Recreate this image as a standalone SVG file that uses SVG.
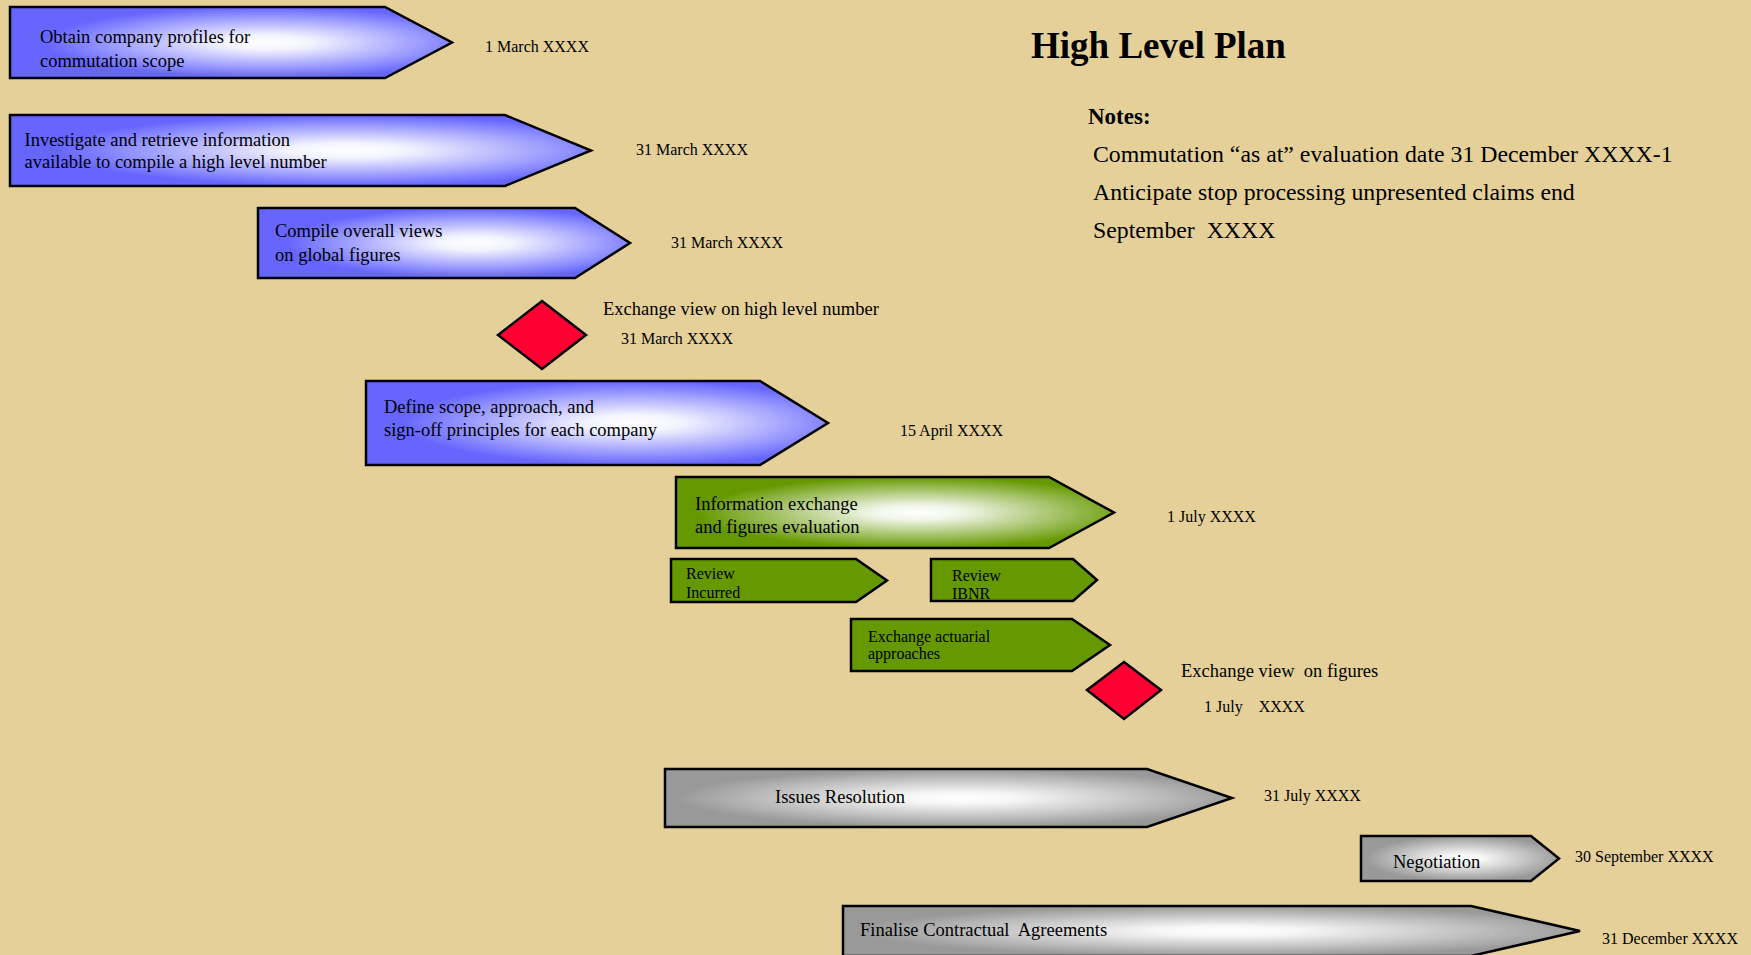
<svg xmlns="http://www.w3.org/2000/svg" width="1751" height="955" viewBox="0 0 1751 955">
<defs>
<radialGradient id="gBlue" cx="0.58" cy="0.5" r="0.5" fx="0.58" fy="0.5">
<stop offset="0" stop-color="#FFFFFF"/>
<stop offset="0.2" stop-color="#F4F4FF"/>
<stop offset="1" stop-color="#6666FF"/>
</radialGradient>
<radialGradient id="gGreen" cx="0.55" cy="0.5" r="0.5" fx="0.55" fy="0.5">
<stop offset="0" stop-color="#FFFFFF"/>
<stop offset="0.2" stop-color="#F2F6EA"/>
<stop offset="1" stop-color="#669900"/>
</radialGradient>
<radialGradient id="gGray" cx="0.52" cy="0.5" r="0.5" fx="0.52" fy="0.5">
<stop offset="0" stop-color="#FFFFFF"/>
<stop offset="0.2" stop-color="#F6F6F6"/>
<stop offset="1" stop-color="#999999"/>
</radialGradient>
<style>
.arrow{stroke:#000;stroke-width:2.5;stroke-linejoin:miter}
.blue{fill:url(#gBlue)}
.green{fill:url(#gGreen)}
.solidgreen{fill:#669900}
.gray{fill:url(#gGray)}
.dia{fill:#FF0033;stroke:#000;stroke-width:2.5}
text{font-family:"Liberation Serif","Times New Roman",serif;fill:#000}
.lbl{font-size:18.5px}
.sm{font-size:16px}
.date{font-size:16px}
.note{font-size:23.8px}
</style>
</defs>
<rect x="0" y="0" width="1751" height="955" fill="#E5D09A"/>

<g id="n1">
<polygon class="arrow blue" points="10,7 385,7 452,42.5 385,78 10,78"/>
<text class="lbl" x="40" y="43">Obtain company profiles for</text>
<text class="lbl" x="40" y="67">commutation scope</text>
</g>
<g id="d1"><text class="date" x="485" y="52">1 March XXXX</text></g>

<g id="n2">
<polygon class="arrow blue" points="10,115 505,115 591,150.5 505,186 10,186"/>
<text class="lbl" x="24.5" y="146">Investigate and retrieve information</text>
<text class="lbl" x="24.5" y="168">available to compile a high level number</text>
</g>
<g id="d2"><text class="date" x="636" y="155">31 March XXXX</text></g>

<g id="n3">
<polygon class="arrow blue" points="258,208 575,208 630,243 575,278 258,278"/>
<text class="lbl" x="275" y="237">Compile overall views</text>
<text class="lbl" x="275" y="261">on global figures</text>
</g>
<g id="d3"><text class="date" x="671" y="248">31 March XXXX</text></g>

<g id="m1">
<polygon class="dia" points="542,301 586,335 542,369 498,335"/>
<text class="lbl" x="603" y="315">Exchange view on high level number</text>
<text class="date" x="621" y="344">31 March XXXX</text>
</g>

<g id="n4">
<polygon class="arrow blue" points="366,381 760,381 828,423 760,465 366,465"/>
<text class="lbl" x="384" y="413">Define scope, approach, and</text>
<text class="lbl" x="384" y="436">sign-off principles for each company</text>
</g>
<g id="d4"><text class="date" x="900" y="436">15 April XXXX</text></g>

<g id="n5">
<polygon class="arrow green" points="676,477 1049,477 1114,512.5 1049,548 676,548"/>
<text class="lbl" x="695" y="510">Information exchange</text>
<text class="lbl" x="695" y="533">and figures evaluation</text>
</g>
<g id="d5"><text class="date" x="1167" y="522">1 July XXXX</text></g>

<g id="n6">
<polygon class="arrow solidgreen" points="671,559 856,559 887,580.5 856,602 671,602"/>
<text class="sm" x="686" y="579">Review</text>
<text class="sm" x="686" y="598">Incurred</text>
</g>

<g id="n7">
<polygon class="arrow solidgreen" points="931,559 1073,559 1097,580 1073,601 931,601"/>
<text class="sm" x="952" y="581">Review</text>
<text class="sm" x="952" y="599">IBNR</text>
</g>

<g id="n8">
<polygon class="arrow solidgreen" points="851,619 1072,619 1110,645 1072,671 851,671"/>
<text class="sm" x="868" y="642">Exchange actuarial</text>
<text class="sm" x="868" y="659">approaches</text>
</g>

<g id="m2">
<polygon class="dia" points="1124,662 1161,690 1124,719 1087,690"/>
<text class="lbl" x="1181" y="677" xml:space="preserve">Exchange view  on figures</text>
<text class="date" x="1204" y="712" xml:space="preserve">1 July    XXXX</text>
</g>

<g id="n9">
<polygon class="arrow gray" points="665,769 1147,769 1232,798 1147,827 665,827"/>
<text class="lbl" x="775" y="803">Issues Resolution</text>
</g>
<g id="d9"><text class="date" x="1264" y="801">31 July XXXX</text></g>

<g id="n10">
<polygon class="arrow gray" points="1361,836 1531,836 1559,858.5 1531,881 1361,881"/>
<text class="lbl" x="1393" y="868">Negotiation</text>
</g>
<g id="d10"><text class="date" x="1575" y="862">30 September XXXX</text></g>

<g id="n11">
<polygon class="arrow gray" points="843,906 1471,906 1580,931 1471,956 843,956"/>
<text class="lbl" x="860" y="936" xml:space="preserve">Finalise Contractual  Agreements</text>
</g>
<g id="d11"><text class="date" x="1602" y="944">31 December XXXX</text></g>

<g id="title">
<text x="1031" y="58" font-size="37" font-weight="bold">High Level Plan</text>
</g>
<g id="notes">
<text x="1088" y="124" font-size="23" font-weight="bold">Notes:</text>
<text class="note" x="1093" y="162">Commutation “as at” evaluation date 31 December XXXX-1</text>
<text class="note" x="1093" y="200">Anticipate stop processing unpresented claims end</text>
<text class="note" x="1093" y="238" xml:space="preserve">September  XXXX</text>
</g>
<g id="connectors"></g>
</svg>
